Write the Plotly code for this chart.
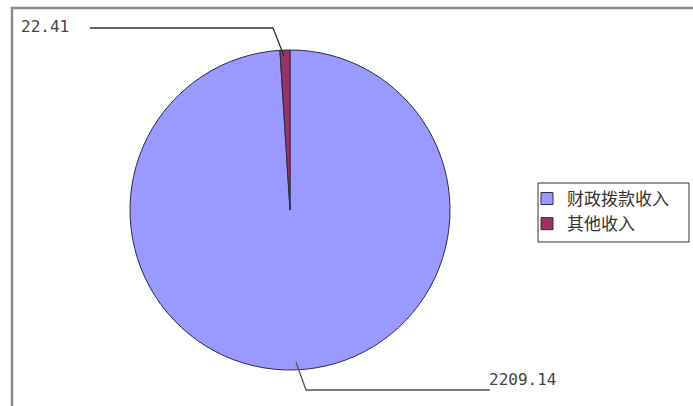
import plotly.graph_objects as go

categories = ["财政拨款收入", "其他收入"]
values = [2209.14, 22.41]
colors = ["#9999FF", "#993366"]

W, H = 693, 406

def px(x):
    return x / W

def py(y):
    return 1 - y / H

cx, cy, d = 290, 210, 320

fig = go.Figure()
fig.add_trace(go.Pie(
    labels=categories,
    values=values,
    sort=False,
    direction="clockwise",
    rotation=0,
    marker=dict(colors=colors, line=dict(color="#2a2a4a", width=1)),
    textinfo="none",
    hoverinfo="label+value",
    domain=dict(x=[px(cx - d / 2), px(cx + d / 2)], y=[py(cy + d / 2), py(cy - d / 2)]),
))

shapes = [
    dict(type="rect", xref="paper", yref="paper", x0=px(12), x1=px(720), y0=py(430), y1=py(8),
         line=dict(color="#8a8a8a", width=2.5), fillcolor="rgba(0,0,0,0)"),
    dict(type="rect", xref="paper", yref="paper", x0=px(538), x1=px(689), y0=py(242), y1=py(183),
         line=dict(color="#333333", width=1), fillcolor="rgba(0,0,0,0)"),
    dict(type="path", xref="paper", yref="paper",
         path=f"M {px(90)} {py(28)} L {px(273)} {py(28)} L {px(284)} {py(56)}",
         line=dict(color="#333333", width=1.3)),
    dict(type="path", xref="paper", yref="paper",
         path=f"M {px(296)} {py(362)} L {px(306)} {py(390)} L {px(490)} {py(390)}",
         line=dict(color="#555555", width=1.3)),
]

font = dict(family="DejaVu Sans Mono, Liberation Mono", size=16, color="#444444")
annotations = [
    dict(text=f"{values[1]:.2f}", xref="paper", yref="paper", x=px(19), y=py(27),
         xanchor="left", yanchor="middle", showarrow=False, font=font),
    dict(text=f"{values[0]:.2f}", xref="paper", yref="paper", x=px(487), y=py(379),
         xanchor="left", yanchor="middle", showarrow=False, font=font),
]

fig.update_layout(
    width=W, height=H,
    margin=dict(l=0, r=0, t=0, b=0),
    paper_bgcolor="white",
    plot_bgcolor="white",
    shapes=shapes,
    annotations=annotations,
    showlegend=True,
    legend=dict(
        x=px(527), y=py(181), xanchor="left", yanchor="top",
        borderwidth=0, bgcolor="rgba(0,0,0,0)",
        font=dict(family="Noto Sans CJK SC", size=17, color="#333333"),
        itemwidth=30, tracegroupgap=0,
    ),
)

fig.write_html("out.html", config={"displayModeBar": False},
               post_script="document.body.style.margin='0';document.body.style.overflow='hidden';")
